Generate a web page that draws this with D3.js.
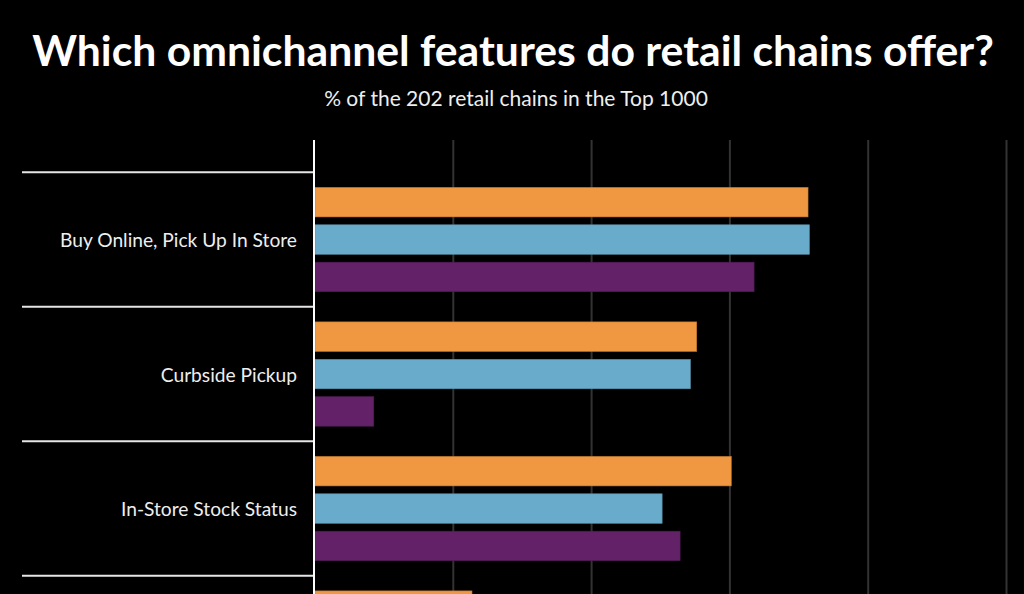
<!DOCTYPE html>
<html>
<head>
<meta charset="utf-8">
<script src="https://cdn.jsdelivr.net/npm/d3@7"></script>
<style>
  html, body { margin: 0; padding: 0; background: #000; overflow: hidden; }
  svg { display: block; }
</style>
</head>
<body>
<svg id="chart" width="1024" height="594"></svg>
<script>
const categories = ["Buy Online, Pick Up In Store", "Curbside Pickup", "In-Store Stock Status", "Ship From Store"];
const seriesNames = ["Series A", "Series B", "Series C"];
const seriesA = [71.3, 55.2, 60.2, 22.7];
const seriesB = [71.5, 54.3, 50.2, null];
const seriesC = [63.5, 8.5, 52.8, null];
const xTicks = [0, 20, 40, 60, 80, 100];
const titleText = "Which omnichannel features do retail chains offer?";
const subtitleText = "% of the 202 retail chains in the Top 1000";

const colors = { "Series A": "#f09741", "Series B": "#69abca", "Series C": "#632268" };
const seriesValues = { "Series A": seriesA, "Series B": seriesB, "Series C": seriesC };

const svg = d3.select("#chart");
const W = 1024, H = 594;

svg.append("rect").attr("width", W).attr("height", H).attr("fill", "#000");

svg.append("text")
  .attr("x", 513).attr("y", 66)
  .attr("text-anchor", "middle")
  .attr("font-family", "Lato")
  .attr("font-weight", 700)
  .attr("font-size", 42.7)
  .attr("fill", "#fff")
  .text(titleText);

svg.append("text")
  .attr("x", 516).attr("y", 106)
  .attr("text-anchor", "middle")
  .attr("font-family", "Lato")
  .attr("font-size", 21)
  .attr("fill", "#eee")
  .text(subtitleText);

const plotTop = 140;
const x = d3.scaleLinear().domain([0, 100]).range([315, 1006.5]);
const bandStep = 134.5;
const y = d3.scaleBand().domain(categories).range([172.3, 172.3 + bandStep * categories.length]).padding(0);
const ys = d3.scaleBand().domain(seriesNames).range([0, y.bandwidth()]).paddingInner(0.211).paddingOuter(0.404);

// gridlines
svg.append("g")
  .selectAll("line")
  .data(xTicks.filter(d => d > 0))
  .join("line")
  .attr("x1", d => x(d)).attr("x2", d => x(d))
  .attr("y1", plotTop).attr("y2", H + 200)
  .attr("stroke", "#333")
  .attr("stroke-width", 2);

// bars
const rows = [];
categories.forEach((c, i) => {
  seriesNames.forEach(s => {
    const v = seriesValues[s][i];
    if (v !== null && v !== undefined) rows.push({ cat: c, series: s, value: v });
  });
});

svg.append("g")
  .selectAll("rect")
  .data(rows)
  .join("rect")
  .attr("x", x(0))
  .attr("y", d => y(d.cat) + ys(d.series))
  .attr("width", d => x(d.value) - x(0))
  .attr("height", ys.bandwidth())
  .attr("fill", d => colors[d.series])
  .attr("stroke", d => d3.color(colors[d.series]).darker(0.6))
  .attr("stroke-width", 0.6);

// category separators
const seps = categories.map(c => y(c)).concat([y.range()[1]]);
svg.append("g")
  .selectAll("line")
  .data(seps)
  .join("line")
  .attr("x1", 22).attr("x2", 313)
  .attr("y1", d => d).attr("y2", d => d)
  .attr("stroke", "#e6e6e6")
  .attr("stroke-width", 2);

// y axis line
svg.append("line")
  .attr("x1", 314).attr("x2", 314)
  .attr("y1", plotTop).attr("y2", H + 200)
  .attr("stroke", "#fff")
  .attr("stroke-width", 2);

// category labels (only those inside the visible frame)
svg.append("g")
  .selectAll("text")
  .data(categories.filter(c => y(c) + y.bandwidth() / 2 < H - 10))
  .join("text")
  .attr("x", 297)
  .attr("y", d => y(d) + y.bandwidth() / 2 + 1)
  .attr("dy", "0.35em")
  .attr("text-anchor", "end")
  .attr("font-family", "Lato")
  .attr("font-size", 19.2)
  .attr("fill", "#eee")
  .text(d => d);
</script>
</body>
</html>
